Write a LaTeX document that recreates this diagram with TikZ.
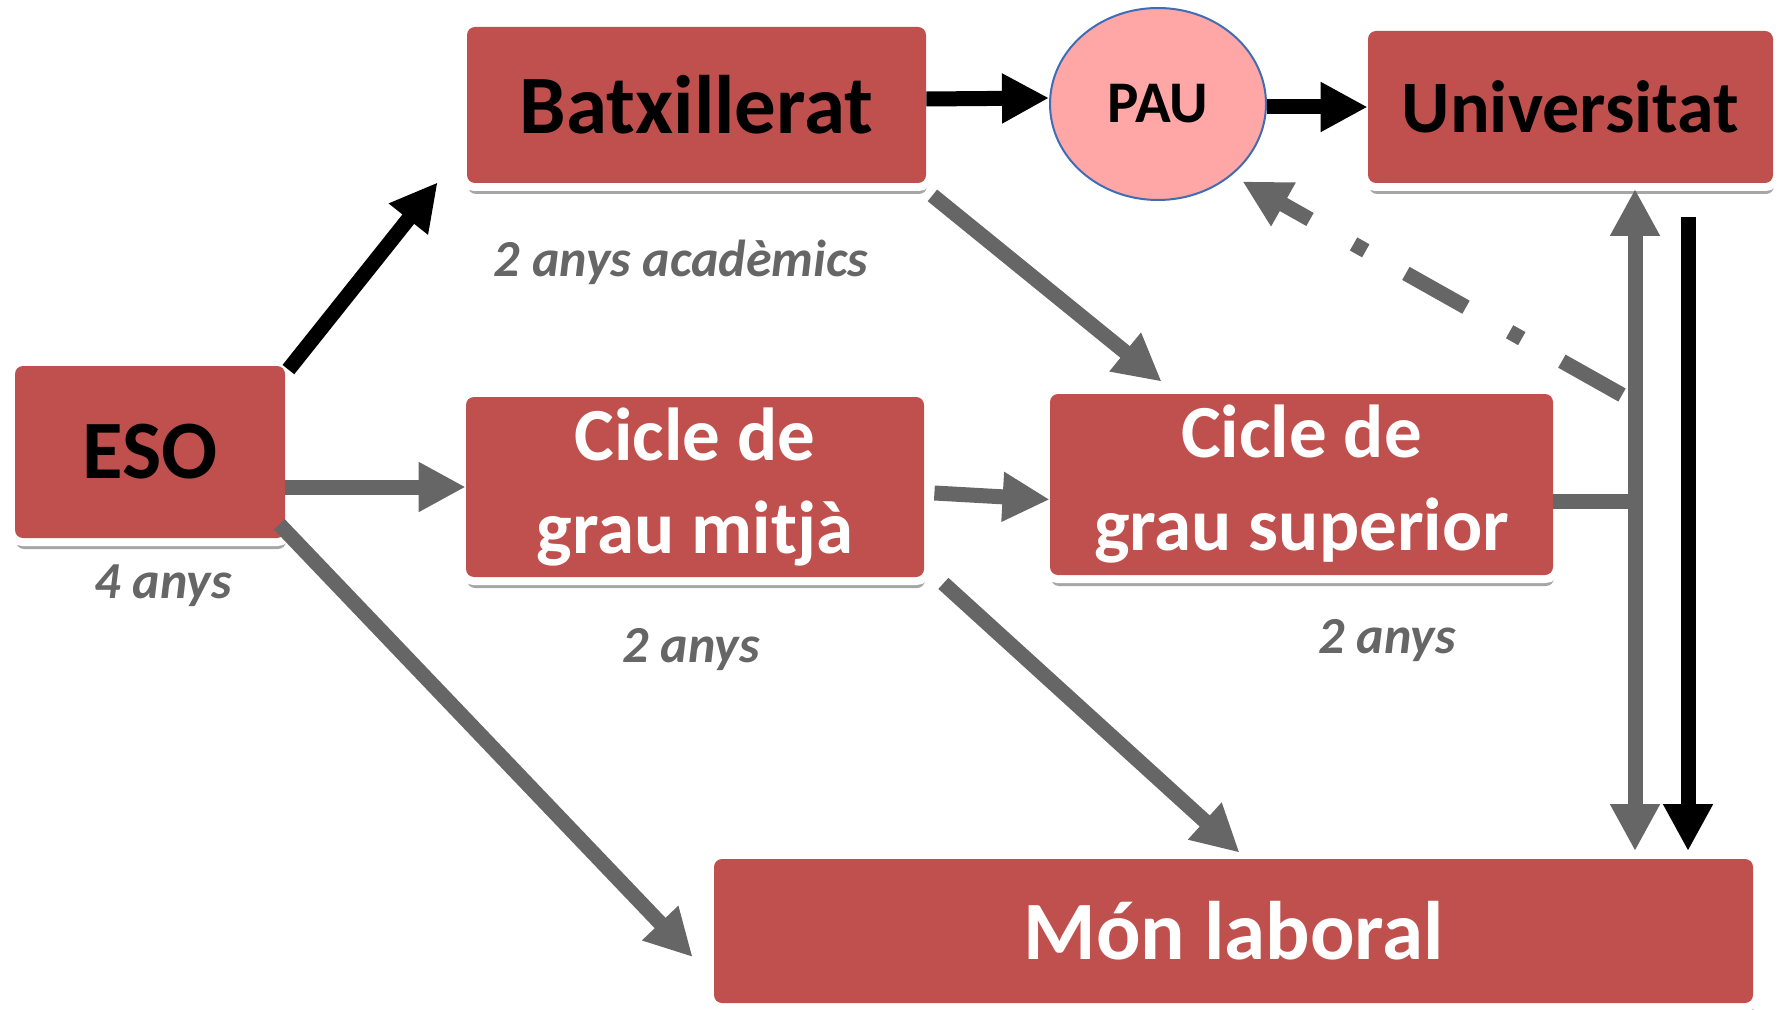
\documentclass[tikz,border=0pt]{standalone}
\usepackage{fontspec}
\setmainfont{Carlito}
\usetikzlibrary{arrows.meta, shapes.geometric, shadows, calc}
\definecolor{boxred}{HTML}{C0504D}
\definecolor{arrgray}{HTML}{666666}
\definecolor{paupink}{HTML}{FFA6A6}
\definecolor{paublue}{HTML}{3E6DB5}

\begin{document}
\begin{tikzpicture}[x=0.5pt, y=-0.5pt, >={Triangle[width=23.5pt, length=23.5pt]},
    every node/.style={font=\bfseries},
    stage/.style={fill=boxred, rounded corners=4pt, inner sep=0pt, align=center,
        drop shadow={shadow xshift=0.5pt, shadow yshift=-5.5pt, fill=black!35, opacity=1},
        preaction={draw=white, line width=8pt}},
    big/.style={font=\bfseries\fontsize{41.5pt}{50pt}\selectfont},
    mid/.style={font=\bfseries\fontsize{37.5pt}{46.5pt}\selectfont, text=white},
    years/.style={font=\bfseries\itshape\fontsize{26pt}{30pt}\selectfont, text=arrgray, anchor=base},
    flow/.style={line width=7.5pt, ->}]
    \useasboundingbox (0,0) rectangle (1786,1010);

    % Stages
    \node[stage, big, minimum width=135pt, minimum height=86pt] (eso) at (150,452) {ESO};
    \node[stage, big, minimum width=229.5pt, minimum height=78pt] (batx) at (696.5,105) {Batxillerat};
    \node[ellipse, fill=paupink, draw=paublue, line width=1pt, inner sep=0pt,
        minimum width=108pt, minimum height=96pt,
        font=\bfseries\fontsize{29.5pt}{35pt}\selectfont] (pau) at (1158,104) {PAU};
    \node[stage, font=\bfseries\fontsize{37pt}{44pt}\selectfont,
        minimum width=202.5pt, minimum height=76pt] (univ) at (1570.5,107) {Universitat};
    \node[stage, mid, minimum width=229pt, minimum height=90pt] (cgm) at (695,487) {Cicle de\\grau mitjà};
    \node[stage, mid, minimum width=251.5pt, minimum height=90.5pt] (cgs) at (1301.5,484.5) {Cicle de\\grau superior};
    \node[stage, big, text=white, minimum width=519.5pt, minimum height=72pt] (mon) at (1233.5,931) {Món laboral};

    % Durations
    \node[years] (yeso) at (163,598) {4 anys};
    \node[years] (ybatx) at (681,277) {2 anys acadèmics};
    \node[years] (ycgm) at (691,662) {2 anys};
    \node[years] (ycgs) at (1387,653) {2 anys};

    % Junctions on the right
    \coordinate (gtop) at (1635,189);
    \coordinate (gmid) at (1635,501);
    \coordinate (gbot) at (1635,851);
    \coordinate (btop) at (1688,217);
    \coordinate (bbot) at (1688,851);
    \coordinate (dtail) at (1622,395);

    % Paths
    \draw[flow] ($(eso.north east)+(3,4)$) -- ($(batx.south west)+(-29,-1)$);
    \draw[flow, arrgray] (eso.east |- cgm.west) -- (cgm.west);
    \draw[flow, arrgray] ($(eso.south east)+(-6,-14)$) -- ($(mon.west)+(-21,26)$);
    \draw[flow] ([yshift=3pt]batx.east) -- ([yshift=3pt]pau.west);
    \draw[flow] (pau.east |- univ.west) -- (univ.west);
    \draw[flow, arrgray] ($(batx.south east)+(6,12)$) -- ($(cgs.north west)+(112,-12)$);
    \draw[flow, arrgray] ($(cgm.east)+(10,6)$) -- ($(cgs.west)+(0,15)$);
    \draw[flow, arrgray] ($(cgm.south east)+(19,6)$) -- ($(mon.north)+(6,-6)$);
    \draw[arrgray, line width=7.5pt] (cgs.east |- gmid) -- (gmid);
    \draw[arrgray, line width=7.5pt, <->] (gtop) -- (gbot);
    \draw[flow] (btop) -- (bbot);
    \draw[flow, arrgray, dash pattern=on 34.5pt off 23pt on 7pt off 25pt] (dtail) -- ($(pau.-45)+(12,5)$);
\end{tikzpicture}
\end{document}
